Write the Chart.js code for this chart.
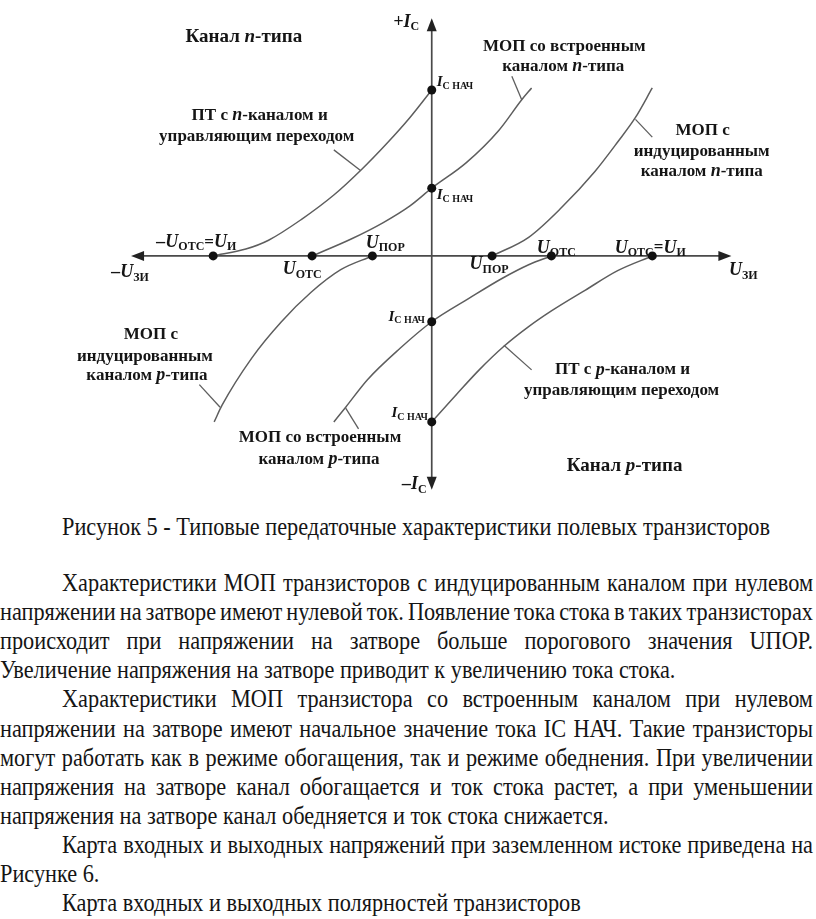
<!DOCTYPE html>
<html>
<head>
<meta charset="utf-8">
<script src="https://cdn.jsdelivr.net/npm/chart.js@4.4.1/dist/chart.umd.min.js"></script>
<style>
  html, body { margin: 0; padding: 0; background: #fff; }
  body { width: 816px; height: 919px; position: relative; overflow: hidden;
         font-family: "Liberation Serif", "Times New Roman", serif; color: #151515; }
  #wrap { position: absolute; left: 0; top: 0; width: 816px; height: 505px; }
  .ln { position: absolute; white-space: nowrap; font-size: 26px; height: 30px; line-height: 30px;
        transform-origin: 0 50%; }
</style>
</head>
<body>
<div id="wrap"><canvas id="chart" width="816" height="505"></canvas></div>
<div id="text"></div>
<script>
// transfer curves (U_ЗИ across, I_C up; arbitrary units)
const jfetN     = [[-221,0],[-188,7],[-165,16],[-132,37],[-99,62],[-72,87],[-45,115],[-22,141],[0,169]];
const builtInN  = [[-121,0],[-82,17],[-49,34],[-22,51],[0,69],[35,95],[68,128],[91,159],[101,171]];
const inducedN  = [[61,0],[98,19],[131,49],[165,86],[188,116],[206,141],[223,171]];
const inducedP  = [[-220,-169],[-212,-152],[-182,-104],[-152,-67],[-122,-37],[-92,-14],[-60,0]];
const builtInP  = [[-99,-169],[-87,-154],[-65,-126],[-32,-94],[0,-67],[38,-43],[71,-23],[98,-9],[121,0]];
const jfetP     = [[0,-169],[25,-141],[48,-116],[73,-92],[98,-72],[121,-56],[155,-35],[188,-15],[223,0]];

// marked points: cut-off / threshold voltages and initial currents
const voltageDots = [-221, -121, -60, 61, 121, 223];
const currentDots = [169, 69, -67, -169];

// leader strokes from the captions to the curves
const leaders = [
  [[-99,108],[-72,87]],
  [[81,183],[91,159]],
  [[206,139],[223,121]],
  [[-235,-131],[-214,-154]],
  [[-87,-155],[-74,-176]],
  [[73,-91],[101,-116]]
];

const axisX = [-304, 303];
const axisY = [-238, 242];

// captions: [text, style]; b bold, bi bold italic, s subscript, si small italic
const notes = [
  { x: -39, y: 238, a: 'left', p: [['+I','bi'],['C','s']] },
  { x: -190, y: 223, a: 'center', p: [['Канал ','B'],['n','BI'],['-типа','B']] },
  { x: -174, y: 143, a: 'center', p: [['ПТ с ','b'],['n','bi'],['-каналом и','b']] },
  { x: -177, y: 122, a: 'center', p: [['управляющим переходом','b']] },
  { x: -238, y: 14, a: 'center', p: [['–U','bi'],['ОТС','s'],['=','b'],['U','bi'],['И','s']] },
  { x: -47, y: 13, a: 'center', p: [['U','bi'],['ПОР','s']] },
  { x: -131, y: -14, a: 'center', p: [['U','bi'],['ОТС','s']] },
  { x: -305, y: -17, a: 'center', p: [['–U','bi'],['ЗИ','s']] },
  { x: 5, y: 177, a: 'left', p: [['I','si'],['C НАЧ','ss']] },
  { x: 5, y: 62, a: 'left', p: [['I','si'],['C НАЧ','ss']] },
  { x: 134, y: 213, a: 'center', p: [['МОП со встроенным','b']] },
  { x: 133, y: 193, a: 'center', p: [['каналом ','b'],['n','bi'],['-типа','b']] },
  { x: 274, y: 128, a: 'center', p: [['МОП с','b']] },
  { x: 273, y: 106, a: 'center', p: [['индуцированным','b']] },
  { x: 273, y: 86, a: 'center', p: [['каналом ','b'],['n','bi'],['-типа','b']] },
  { x: 126, y: 8, a: 'center', p: [['U','bi'],['ОТС','s']] },
  { x: 221, y: 8, a: 'center', p: [['U','bi'],['ОТС','s'],['=','b'],['U','bi'],['И','s']] },
  { x: 58, y: -9, a: 'center', p: [['U','bi'],['ПОР','s']] },
  { x: 315, y: -15, a: 'center', p: [['U','bi'],['ЗИ','s']] },
  { x: -7, y: -62, a: 'right', p: [['I','si'],['C НАЧ','ss']] },
  { x: -4, y: -160, a: 'right', p: [['I','si'],['C НАЧ','ss']] },
  { x: -284, y: -80, a: 'center', p: [['МОП с','b']] },
  { x: -290, y: -102, a: 'center', p: [['индуцированным','b']] },
  { x: -288, y: -122, a: 'center', p: [['каналом ','b'],['p','bi'],['-типа','b']] },
  { x: -113, y: -185, a: 'center', p: [['МОП со встроенным','b']] },
  { x: -114, y: -207, a: 'center', p: [['каналом ','b'],['p','bi'],['-типа','b']] },
  { x: -5, y: -233, a: 'right', p: [['–I','bi'],['C','s']] },
  { x: 193, y: -116, a: 'center', p: [['ПТ с ','b'],['p','bi'],['-каналом и','b']] },
  { x: 192, y: -137, a: 'center', p: [['управляющим переходом','b']] },
  { x: 195, y: -214, a: 'center', p: [['Канал ','B'],['p','BI'],['-типа','B']] }
];

const SERIF = '"Liberation Serif", "Times New Roman", serif';
const styles = {
  B:  { font: 'bold 19px ' + SERIF, dy: 0 },
  BI: { font: 'italic bold 19px ' + SERIF, dy: 0 },
  b:  { font: 'bold 17px ' + SERIF, dy: 0 },
  bi: { font: 'italic bold 18px ' + SERIF, dy: 0 },
  s:  { font: 'bold 12px ' + SERIF, dy: 5 },
  si: { font: 'italic bold 15px ' + SERIF, dy: 0 },
  ss: { font: 'bold 10px ' + SERIF, dy: 4 }
};

const toXY = arr => arr.map(p => ({ x: p[0], y: p[1] }));
const curveColor = '#5e5e5e';

function curve(points) {
  return {
    data: toXY(points), showLine: true, pointRadius: 0,
    borderColor: curveColor, borderWidth: 1.5, cubicInterpolationMode: 'monotone'
  };
}

const dotData = voltageDots.map(v => ({ x: v, y: 0 })).concat(currentDots.map(v => ({ x: 0, y: v })));

const datasets = [
  { data: dotData, pointRadius: 4.5, pointBackgroundColor: '#111', pointBorderWidth: 0, showLine: false }
];
[jfetN, builtInN, inducedN, inducedP, builtInP, jfetP].forEach(c => datasets.push(curve(c)));
leaders.forEach(l => datasets.push({
  data: toXY(l), showLine: true, pointRadius: 0, borderColor: curveColor, borderWidth: 1.3
}));

const axesPlugin = {
  id: 'axes',
  beforeDatasetsDraw(chart) {
    const ctx = chart.ctx, xs = chart.scales.x, ys = chart.scales.y;
    const x0 = xs.getPixelForValue(0), y0 = ys.getPixelForValue(0);
    const l = xs.getPixelForValue(axisX[0]), r = xs.getPixelForValue(axisX[1]);
    const t = ys.getPixelForValue(axisY[1]), b = ys.getPixelForValue(axisY[0]);
    ctx.save();
    ctx.strokeStyle = '#4a4a4a';
    ctx.fillStyle = '#222';
    ctx.lineWidth = 1.7;
    ctx.beginPath();
    ctx.moveTo(l + 6, y0); ctx.lineTo(r - 6, y0);
    ctx.moveTo(x0, t + 6); ctx.lineTo(x0, b - 6);
    ctx.stroke();
    const head = (tx, ty, dx, dy) => {
      const L = 13, W = 5;
      ctx.beginPath();
      ctx.moveTo(tx, ty);
      ctx.lineTo(tx - dx * L - dy * W, ty - dy * L + dx * W);
      ctx.lineTo(tx - dx * L + dy * W, ty - dy * L - dx * W);
      ctx.closePath();
      ctx.fill();
    };
    head(r, y0, 1, 0);
    head(l, y0, -1, 0);
    head(x0, t, 0, -1);
    head(x0, b, 0, 1);
    ctx.restore();
  },
  afterDatasetsDraw(chart) {
    const ctx = chart.ctx, xs = chart.scales.x, ys = chart.scales.y;
    ctx.save();
    ctx.fillStyle = '#151515';
    ctx.textBaseline = 'middle';
    ctx.textAlign = 'left';
    notes.forEach(n => {
      let w = 0;
      n.p.forEach(([txt, st]) => { ctx.font = styles[st].font; w += ctx.measureText(txt).width; });
      let x = xs.getPixelForValue(n.x);
      const y = ys.getPixelForValue(n.y);
      if (n.a === 'center') x -= w / 2;
      else if (n.a === 'right') x -= w;
      n.p.forEach(([txt, st]) => {
        ctx.font = styles[st].font;
        ctx.fillText(txt, x, y + styles[st].dy);
        x += ctx.measureText(txt).width;
      });
    });
    ctx.restore();
  }
};

new Chart(document.getElementById('chart'), {
  type: 'scatter',
  data: { datasets },
  options: {
    responsive: false,
    animation: false,
    layout: { padding: 0 },
    plugins: { legend: { display: false }, tooltip: { enabled: false } },
    scales: {
      x: { type: 'linear', min: -432, max: 384, display: false },
      y: { type: 'linear', min: -249, max: 256, display: false }
    }
  },
  plugins: [axesPlugin]
});

// text under the figure
const caption = 'Рисунок 5 - Типовые передаточные характеристики полевых транзисторов';
const bodyLines = [
  ['Характеристики МОП транзисторов с индуцированным каналом при нулевом', 1, 1],
  ['напряжении на затворе имеют нулевой ток. Появление тока стока в таких транзисторах', 0, 1],
  ['происходит при напряжении на затворе больше порогового значения UПОР.', 0, 1],
  ['Увеличение напряжения на затворе приводит к увеличению тока стока.', 0, 0],
  ['Характеристики МОП транзистора со встроенным каналом при нулевом', 1, 1],
  ['напряжении на затворе имеют начальное значение тока IC НАЧ. Такие транзисторы', 0, 1],
  ['могут работать как в режиме обогащения, так и режиме обеднения. При увеличении', 0, 1],
  ['напряжения на затворе канал обогащается и ток стока растет, а при уменьшении', 0, 1],
  ['напряжения на затворе канал обедняется и ток стока снижается.', 0, 0],
  ['Карта входных и выходных напряжений при заземленном истоке приведена на', 1, 1],
  ['Рисунке 6.', 0, 0],
  ['Карта входных и выходных полярностей транзисторов', 1, 0]
];

const mctx = document.createElement('canvas').getContext('2d');
mctx.font = '26px ' + SERIF;
const squeeze = 708 / mctx.measureText(caption).width;
const holder = document.getElementById('text');
const RIGHT = 813, INDENT = 62;

function addLine(txt, left, centerY, justify) {
  const d = document.createElement('div');
  d.className = 'ln';
  d.textContent = txt;
  d.style.left = left + 'px';
  d.style.top = (centerY - 15) + 'px';
  d.style.transform = 'scaleX(' + squeeze.toFixed(4) + ')';
  if (justify) {
    const gaps = txt.split(' ').length - 1;
    const spare = (RIGHT - left) / squeeze - mctx.measureText(txt).width;
    d.style.wordSpacing = (spare / gaps).toFixed(2) + 'px';
  }
  holder.appendChild(d);
}

addLine(caption, 62, 527, false);
bodyLines.forEach((ln, i) => addLine(ln[0], ln[1] ? INDENT : 0, 583 + i * 29.1, ln[2] === 1));
</script>
</body>
</html>
